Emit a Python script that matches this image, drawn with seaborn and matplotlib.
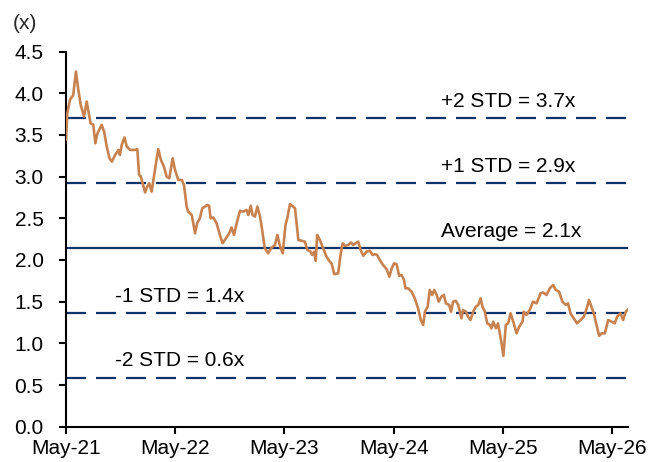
import pandas as pd
import numpy as np
import matplotlib.pyplot as plt
import matplotlib.dates as mdates
import matplotlib.transforms as mtransforms
import seaborn as sns

# valuation multiple (x)
dates = [
    '2021-05-02', '2021-05-06', '2021-05-15', '2021-05-26', '2021-06-04', '2021-06-12', '2021-06-20',
    '2021-07-01', '2021-07-10', '2021-07-19', '2021-07-23', '2021-08-01', '2021-08-08', '2021-08-15',
    '2021-08-29', '2021-09-06', '2021-09-15', '2021-09-24', '2021-10-02', '2021-10-13', '2021-10-24',
    '2021-10-29', '2021-11-04', '2021-11-13', '2021-11-21', '2021-12-02', '2021-12-18', '2021-12-26',
    '2022-01-01', '2022-01-07', '2022-01-21', '2022-01-28', '2022-02-04', '2022-02-12', '2022-02-23',
    '2022-03-06', '2022-03-15', '2022-03-25', '2022-04-03', '2022-04-12', '2022-04-23', '2022-05-01',
    '2022-05-12', '2022-05-24', '2022-05-31', '2022-06-09', '2022-06-14', '2022-06-26', '2022-07-07',
    '2022-07-14', '2022-07-23', '2022-07-31', '2022-08-09', '2022-08-17', '2022-08-23', '2022-08-28',
    '2022-09-06', '2022-09-17', '2022-09-28', '2022-10-07', '2022-10-18', '2022-10-29', '2022-11-06',
    '2022-11-14', '2022-11-23', '2022-12-04', '2022-12-15', '2022-12-26', '2023-01-01', '2023-01-09',
    '2023-01-15', '2023-01-23', '2023-01-31', '2023-02-09', '2023-02-14', '2023-02-25', '2023-03-08',
    '2023-03-20', '2023-03-31', '2023-04-08', '2023-04-17', '2023-04-26', '2023-05-05', '2023-05-11',
    '2023-05-20', '2023-05-31', '2023-06-06', '2023-06-17', '2023-06-28', '2023-07-09', '2023-07-17',
    '2023-07-28', '2023-08-02', '2023-08-09', '2023-08-14', '2023-08-19', '2023-08-28', '2023-09-08',
    '2023-09-19', '2023-09-30', '2023-10-06', '2023-10-15', '2023-10-28', '2023-11-05', '2023-11-12',
    '2023-11-20', '2023-12-01', '2023-12-10', '2023-12-17', '2023-12-26', '2024-01-03', '2024-01-11',
    '2024-01-20', '2024-01-31', '2024-02-11', '2024-02-20', '2024-02-28', '2024-03-06', '2024-03-15',
    '2024-03-26', '2024-04-07', '2024-04-16', '2024-04-24', '2024-05-02', '2024-05-10', '2024-05-19',
    '2024-05-27', '2024-06-04', '2024-06-09', '2024-06-18', '2024-06-29', '2024-07-10', '2024-07-21',
    '2024-07-30', '2024-08-07', '2024-08-13', '2024-08-22', '2024-08-29', '2024-09-06', '2024-09-13',
    '2024-09-21', '2024-09-28', '2024-10-07', '2024-10-15', '2024-10-22', '2024-11-02', '2024-11-08',
    '2024-11-15', '2024-11-24', '2024-12-02', '2024-12-13', '2024-12-18', '2024-12-28', '2025-01-04',
    '2025-01-12', '2025-01-21', '2025-01-30', '2025-02-07', '2025-02-15', '2025-02-21', '2025-03-01',
    '2025-03-09', '2025-03-18', '2025-03-23', '2025-03-29', '2025-04-07', '2025-04-14', '2025-04-20',
    '2025-04-26', '2025-05-02', '2025-05-10', '2025-05-18', '2025-05-26', '2025-06-04', '2025-06-15',
    '2025-06-24', '2025-07-05', '2025-07-09', '2025-07-18', '2025-07-29', '2025-08-09', '2025-08-21',
    '2025-09-03', '2025-09-12', '2025-09-23', '2025-10-04', '2025-10-15', '2025-10-24', '2025-11-04',
    '2025-11-15', '2025-11-27', '2025-12-04', '2025-12-12', '2025-12-23', '2026-01-03', '2026-01-15',
    '2026-01-26', '2026-02-06', '2026-02-12', '2026-02-20', '2026-02-28', '2026-03-09', '2026-03-18',
    '2026-03-26', '2026-04-06', '2026-04-17', '2026-04-28', '2026-05-09', '2026-05-17', '2026-05-28',
    '2026-06-06', '2026-06-15', '2026-06-23',
]
multiple = [
    3.44, 3.76, 3.92, 3.98, 4.26, 4.04, 3.86,
    3.72, 3.90, 3.72, 3.64, 3.62, 3.40, 3.52,
    3.62, 3.54, 3.36, 3.22, 3.18, 3.26, 3.32,
    3.26, 3.38, 3.47, 3.36, 3.32, 3.32, 3.33,
    3.02, 3.00, 2.81, 2.88, 2.92, 2.82, 3.08,
    3.33, 3.20, 3.12, 3.00, 2.98, 3.22, 3.08,
    2.96, 2.96, 2.90, 2.64, 2.58, 2.54, 2.32,
    2.44, 2.50, 2.62, 2.64, 2.66, 2.65, 2.50,
    2.51, 2.44, 2.30, 2.20, 2.26, 2.32, 2.39,
    2.30, 2.44, 2.59, 2.58, 2.60, 2.54, 2.65,
    2.54, 2.52, 2.64, 2.52, 2.41, 2.14, 2.08,
    2.15, 2.18, 2.30, 2.16, 2.08, 2.42, 2.50,
    2.67, 2.64, 2.62, 2.24, 2.23, 2.22, 2.12,
    2.10, 2.06, 2.10, 1.99, 2.30, 2.24, 2.14,
    2.04, 1.98, 1.96, 1.83, 1.84, 2.06, 2.20,
    2.17, 2.18, 2.21, 2.18, 2.20, 2.22, 2.12,
    2.05, 2.10, 2.11, 2.06, 2.07, 2.06, 2.00,
    1.94, 1.89, 1.80, 1.90, 1.96, 1.95, 1.81,
    1.82, 1.76, 1.66, 1.66, 1.62, 1.54, 1.42,
    1.28, 1.22, 1.38, 1.44, 1.64, 1.58, 1.64,
    1.58, 1.50, 1.56, 1.58, 1.48, 1.46, 1.38,
    1.50, 1.51, 1.46, 1.30, 1.40, 1.38, 1.32,
    1.28, 1.38, 1.44, 1.46, 1.54, 1.44, 1.38,
    1.24, 1.22, 1.18, 1.26, 1.18, 1.24, 1.12,
    1.00, 0.85, 1.22, 1.24, 1.36, 1.26, 1.12,
    1.20, 1.26, 1.38, 1.34, 1.40, 1.50, 1.48,
    1.60, 1.61, 1.58, 1.66, 1.70, 1.64, 1.62,
    1.50, 1.46, 1.48, 1.36, 1.30, 1.24, 1.28,
    1.32, 1.44, 1.52, 1.44, 1.36, 1.22, 1.09,
    1.12, 1.12, 1.28, 1.26, 1.24, 1.32, 1.36,
    1.28, 1.38, 1.41,
]

# average and +/- std bands
band_values = [3.70, 2.92, 2.14, 1.36, 0.59]
band_labels = ['+2 STD = 3.7x', '+1 STD = 2.9x', 'Average = 2.1x', '-1 STD = 1.4x', '-2 STD = 0.6x']

navy = '#0d3468'
orange = '#c8824f'

sns.set_style('ticks')
plt.rcParams['font.family'] = ['Liberation Sans', 'DejaVu Sans']

df = pd.DataFrame({'date': pd.to_datetime(dates), 'multiple': multiple})

fig = plt.figure(figsize=(6.51, 4.62), dpi=100)
ax = fig.add_axes([0.101, 0.0764, 0.864, 0.812])

trans = mtransforms.blended_transform_factory(ax.transAxes, ax.transData)
for val, lab in zip(band_values, band_labels):
    if lab.startswith('Average'):
        ax.axhline(val, color=navy, lw=1.6, zorder=1)
    else:
        ax.axhline(val, color=navy, lw=1.6, ls=(0, (9, 4.5)), zorder=1)
    xpos = 0.088 if lab.startswith('-') else 0.667
    ax.annotate(lab, xy=(xpos, val), xycoords=trans, xytext=(0, 12), textcoords='offset points',
                ha='left', va='center', fontsize=15, color='black')

sns.lineplot(data=df, x='date', y='multiple', color=orange, lw=1.9, ax=ax, zorder=3)

ax.set_ylim(0, 4.5)
ax.set_yticks(np.arange(0, 4.51, 0.5))
ax.yaxis.set_major_formatter(plt.FormatStrFormatter('%.1f'))
ax.set_xlim(pd.Timestamp('2021-05-01'), pd.Timestamp('2026-06-23'))
ax.xaxis.set_major_locator(mdates.MonthLocator(bymonth=5))
ax.xaxis.set_major_formatter(mdates.DateFormatter('%b-%y'))
ax.set_xlabel('')
ax.set_ylabel('')

for side in ['top', 'right']:
    ax.spines[side].set_visible(False)
for side in ['left', 'bottom']:
    ax.spines[side].set_color('black')
    ax.spines[side].set_linewidth(1.5)
ax.tick_params(axis='both', direction='out', length=5, width=1.5, colors='black', labelsize=15)
ax.tick_params(axis='y', pad=11)
ax.tick_params(axis='x', pad=4)

fig.text(25 / 651, 1 - 23.5 / 462, '(x)', ha='center', va='center', fontsize=15)

plt.savefig('out.png', dpi=100)
